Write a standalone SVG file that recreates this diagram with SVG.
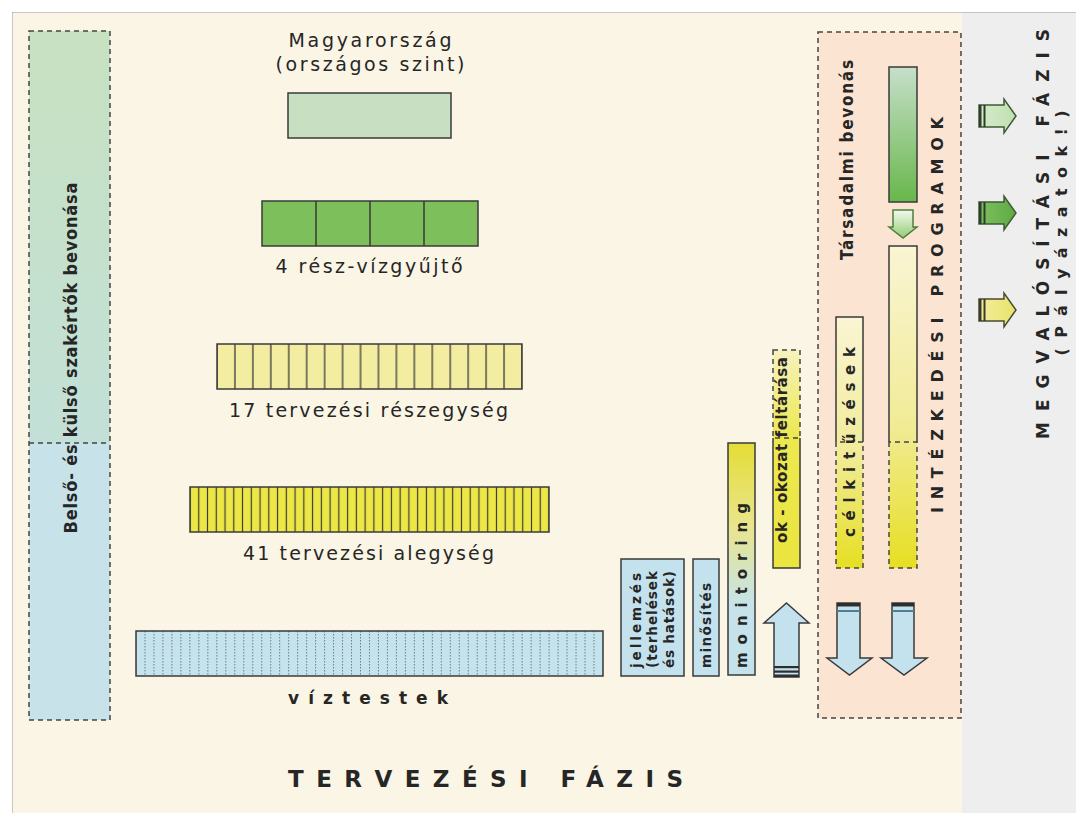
<svg xmlns="http://www.w3.org/2000/svg" width="1076" height="813" viewBox="0 0 1076 813">
<style>
.t{font-family:"DejaVu Sans","Liberation Sans",sans-serif;fill:#262626}
.tc{font-family:"DejaVu Sans Condensed","DejaVu Sans","Liberation Sans",sans-serif;fill:#262626;font-weight:bold}
.b{font-weight:bold}
.box{stroke:#3a3a3a;stroke-width:1.5}
.dash{fill:none;stroke:#444;stroke-width:1.5;stroke-dasharray:5 4}
.solid{fill:none;stroke:#3a3a3a;stroke-width:1.5}
.arr{stroke:#3a3a3a;stroke-width:1.5;stroke-linejoin:miter}
.blue{fill:#c3e2ed}
.bar{fill:#2e2e2e}
</style>
<defs>
<linearGradient id="gLeft" x1="0" y1="0" x2="0" y2="1">
<stop offset="0" stop-color="#c8e1c1"/><stop offset="1" stop-color="#c2e0d7"/>
</linearGradient>
<linearGradient id="gGreenBar" x1="0" y1="0" x2="0" y2="1">
<stop offset="0" stop-color="#c6dfca"/><stop offset="1" stop-color="#69b74b"/>
</linearGradient>
<linearGradient id="gYel" x1="0" y1="0" x2="0" y2="1">
<stop offset="0" stop-color="#faf5d3"/><stop offset="0.55" stop-color="#f1eb98"/><stop offset="1" stop-color="#e6df22"/>
</linearGradient>
<linearGradient id="gMon" x1="0" y1="0" x2="0" y2="1">
<stop offset="0" stop-color="#e4dd36"/><stop offset="0.35" stop-color="#e9e58a"/><stop offset="0.7" stop-color="#c6e3ea"/><stop offset="1" stop-color="#c4e2eb"/>
</linearGradient>
<linearGradient id="gOk" x1="0" y1="0" x2="0" y2="1">
<stop offset="0" stop-color="#f6f2c0"/><stop offset="0.4" stop-color="#ede84f"/><stop offset="1" stop-color="#ebe53f"/>
</linearGradient>
<linearGradient id="gSmall" x1="0" y1="0" x2="0" y2="1">
<stop offset="0" stop-color="#f4f9ee"/><stop offset="1" stop-color="#92cc76"/>
</linearGradient>
<linearGradient id="gR1" x1="0" y1="0" x2="1" y2="0">
<stop offset="0" stop-color="#d6ebcc"/><stop offset="1" stop-color="#bfe0b0"/>
</linearGradient>
<linearGradient id="gR2" x1="0" y1="0" x2="1" y2="0">
<stop offset="0" stop-color="#7fc061"/><stop offset="1" stop-color="#5eaa42"/>
</linearGradient>
<linearGradient id="gR3" x1="0" y1="0" x2="1" y2="0">
<stop offset="0" stop-color="#f3ef9c"/><stop offset="1" stop-color="#e8e26a"/>
</linearGradient>
<pattern id="p17" patternUnits="userSpaceOnUse" x="208.03" y="344" width="17.941" height="45">
<rect width="17.941" height="45" fill="#f2eda1"/>
<line x1="8.97" y1="0" x2="8.97" y2="45" stroke="#3a3a3a" stroke-width="1.3"/>
</pattern>
<pattern id="p41" patternUnits="userSpaceOnUse" x="185.622" y="487" width="8.756" height="45">
<rect width="8.756" height="45" fill="#ece745"/>
<line x1="4.378" y1="0" x2="4.378" y2="45" stroke="#3a3a3a" stroke-width="1.2"/>
</pattern>
<pattern id="pV" patternUnits="userSpaceOnUse" x="131.51" y="631" width="8.98" height="45">
<rect width="8.98" height="45" fill="#c4e3ec"/>
<line x1="4.49" y1="0" x2="4.49" y2="45" stroke="#6f7f86" stroke-width="1" stroke-dasharray="1.5 1.5"/>
</pattern>
</defs>

<!-- background -->
<rect x="0" y="0" width="1076" height="813" fill="#ffffff"/>
<rect x="12" y="12" width="950" height="801" fill="#faf5e5"/>
<rect x="962" y="12" width="114" height="801" fill="#eeeeee"/>
<path d="M12.5 12.5H1076M12.5 12.5V813" fill="none" stroke="#9a9a9a" stroke-width="1" stroke-dasharray="1 1"/>

<!-- left column -->
<g id="node-szakertok">
<rect x="29" y="31" width="81" height="412" fill="url(#gLeft)"/>
<rect x="29" y="443" width="81" height="277" fill="#c7e2e8"/>
<rect x="29" y="31" width="81" height="689" class="dash"/>
<line x1="29" y1="443" x2="110" y2="443" class="dash"/>
<text class="tc" font-size="18" transform="translate(77,358) rotate(-90)" text-anchor="middle" textLength="351">Belső- és külső szakértők bevonása</text>
</g>

<g id="node-magyarorszag">
<text class="t" font-size="19" x="370" y="47" text-anchor="middle" textLength="163">Magyarország</text>
<text class="t" font-size="19" x="370" y="71" text-anchor="middle" textLength="189">(országos szint)</text>
<rect x="288" y="93" width="163" height="45" fill="#c9dfc2" class="box"/>
</g>

<g id="node-4resz">
<rect x="262" y="201" width="216" height="45" fill="#7cbf5b" class="box"/>
<path d="M316 201V246M370 201V246M424 201V246" class="solid"/>
<text class="t" font-size="19" x="369" y="273" text-anchor="middle" textLength="187">4 rész-vízgyűjtő</text>
</g>

<g id="node-17">
<rect x="217" y="344" width="305" height="45" fill="url(#p17)" class="box"/>
<text class="t" font-size="19" x="368.5" y="417" text-anchor="middle" textLength="279">17 tervezési részegység</text>
</g>

<g id="node-41">
<rect x="190" y="487" width="359" height="45" fill="url(#p41)" class="box"/>
<text class="t" font-size="19" x="368.5" y="560" text-anchor="middle" textLength="251">41 tervezési alegység</text>
</g>

<g id="node-viztestek">
<rect x="136" y="631" width="467" height="45" fill="url(#pV)" class="box"/>
<text class="t b" font-size="17" x="368" y="704" text-anchor="middle" textLength="160">víztestek</text>
</g>

<g id="node-jellemzes">
<rect x="621" y="559" width="63" height="117" class="box blue"/>
<text class="t b" font-size="13.5" transform="translate(641,668) rotate(-90)" textLength="95">jellemzés</text>
<text class="t b" font-size="13.5" transform="translate(657,668) rotate(-90)" textLength="97">(terhelések</text>
<text class="t b" font-size="13.5" transform="translate(674,668) rotate(-90)" textLength="97">és hatások)</text>
</g>

<g id="node-minosites">
<rect x="693" y="559" width="26" height="117" class="box blue"/>
<text class="t b" font-size="13.5" transform="translate(711,668) rotate(-90)" textLength="85">minősítés</text>
</g>

<g id="node-monitoring">
<rect x="728" y="443" width="27" height="232" fill="url(#gMon)" class="box"/>
<text class="t b" font-size="15" transform="translate(747,668) rotate(-90)" textLength="165">monitoring</text>
</g>

<g id="node-okokozat">
<rect x="773" y="350" width="27" height="218" fill="url(#gOk)"/>
<rect x="773" y="350" width="27" height="88" class="dash"/>
<path d="M773 438V568H800V438" class="solid"/>
<text class="t b" font-size="15" transform="translate(787,543) rotate(-90)" textLength="186">ok - okozat feltárása</text>
</g>

<!-- orange panel -->
<g id="node-intezkedesi">
<rect x="818" y="32" width="143" height="686" fill="#fbe4d1"/>
<rect x="818" y="32" width="143" height="686" class="dash"/>
<text class="tc" font-size="17" transform="translate(853,160) rotate(-90)" text-anchor="middle" textLength="200">Társadalmi bevonás</text>
<rect x="889" y="67" width="28" height="135" fill="url(#gGreenBar)" class="box"/>
<rect x="889" y="246" width="28" height="322" fill="url(#gYel)"/>
<path d="M889 442V246H917V442" class="solid"/>
<path d="M889 442V568H917V442Z" class="dash"/>
<text class="t b" font-size="16" transform="translate(943,315) rotate(-90)" text-anchor="middle" textLength="396">INTÉZKEDÉSI PROGRAMOK</text>
</g>

<g id="node-celkituzesek">
<rect x="836" y="317" width="27" height="251" fill="url(#gYel)"/>
<path d="M836 442V317H863V442" class="solid"/>
<path d="M836 442V568H863V442Z" class="dash"/>
<text class="t b" font-size="15" transform="translate(855,442) rotate(-90)" text-anchor="middle" textLength="190">célkitűzések</text>
</g>

<!-- right strip -->
<g id="node-megvalositasi">
<text class="t b" font-size="17" transform="translate(1049,234) rotate(-90)" text-anchor="middle" textLength="410">MEGVALÓSÍTÁSI FÁZIS</text>
<text class="t b" font-size="16" transform="translate(1067,233) rotate(-90)" text-anchor="middle" textLength="245">(Pályázatok!)</text>
</g>

<g id="node-tervezesi">
<text class="t b" font-size="23" x="485.5" y="787" text-anchor="middle" textLength="395">TERVEZÉSI FÁZIS</text>
</g>

<!-- connectors / arrows -->
<g id="connectors">
<g id="arrow-up">
<polygon points="786.5,603 809,623 799,623 799,677 774,677 774,623 764,623" class="arr blue"/>
<rect x="774" y="666" width="25" height="2.2" class="bar"/>
<rect x="774" y="670.5" width="25" height="2.2" class="bar"/>
<rect x="774" y="674.5" width="25" height="2.5" class="bar"/>
</g>
<g id="arrow-down-1">
<polygon points="837,603 860,603 860,658 872,658 849.5,675 827,658 837,658" class="arr blue"/>
<rect x="837" y="603" width="23" height="3.5" class="bar"/>
<rect x="837" y="610" width="23" height="2" fill="#4d7f94"/>
</g>
<g id="arrow-down-2">
<polygon points="892,603 914,603 914,658 927,658 904,675 881,658 892,658" class="arr blue"/>
<rect x="892" y="603" width="22" height="3.5" class="bar"/>
<rect x="892" y="610" width="22" height="2" fill="#4d7f94"/>
</g>
<g id="arrow-green-small">
<polygon points="893,210 913,210 913,227 917,227 903,238 889,227 893,227" fill="url(#gSmall)" stroke="#4e7f3a" stroke-width="1.5"/>
</g>
<g id="arrow-right-1">
<polygon points="979,105 1004,105 1004,99 1016,116 1004,133 1004,127 979,127" fill="url(#gR1)" stroke="#3e5a34" stroke-width="1.5"/>
<rect x="979" y="105" width="2.5" height="22" fill="#2e3d2a"/>
<rect x="983.5" y="105" width="2" height="22" fill="#2e3d2a"/>
</g>
<g id="arrow-right-2">
<polygon points="979,202 1004,202 1004,196 1016,213 1004,230 1004,224 979,224" fill="url(#gR2)" stroke="#3e5a34" stroke-width="1.5"/>
<rect x="979" y="202" width="2.5" height="22" fill="#2e3d2a"/>
<rect x="983.5" y="202" width="2" height="22" fill="#2e3d2a"/>
</g>
<g id="arrow-right-3">
<polygon points="979,299 1004,299 1004,293 1016,310 1004,327 1004,321 979,321" fill="url(#gR3)" stroke="#4a4a30" stroke-width="1.5"/>
<rect x="979" y="299" width="2.5" height="22" fill="#3a3a2a"/>
<rect x="983.5" y="299" width="2" height="22" fill="#3a3a2a"/>
</g>
</g>
</svg>
